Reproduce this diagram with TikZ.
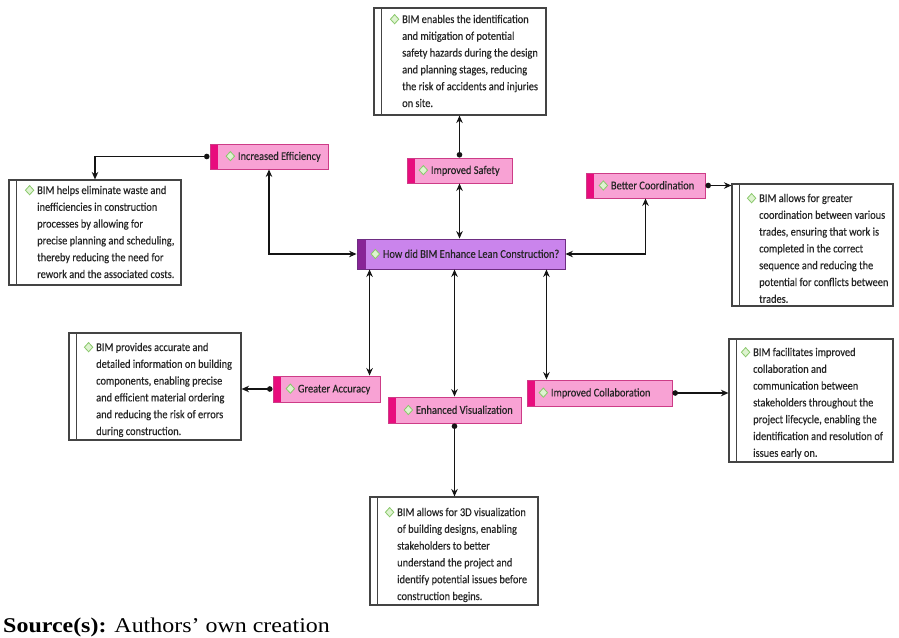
\documentclass[tikz,border=0pt]{standalone}
\usepackage{fontspec}
\setmainfont{Carlito}[FakeStretch=0.88,FakeBold=0.3]
\newfontfamily\srcfont{Liberation Serif}
\usetikzlibrary{arrows.meta}

\definecolor{pinkfill}{RGB}{248,162,212}
\definecolor{pinkstrip}{RGB}{232,12,125}
\definecolor{pinkedge}{RGB}{205,60,135}
\definecolor{purpfill}{RGB}{202,132,236}
\definecolor{purpstrip}{RGB}{136,36,150}
\definecolor{purpedge}{RGB}{110,45,130}
\definecolor{gemfill}{RGB}{222,243,208}
\definecolor{gemedge}{RGB}{138,200,108}
\definecolor{boxedge}{RGB}{68,68,68}
\definecolor{linkcol}{RGB}{20,20,20}

% small green diamond marker
\newcommand{\gem}{\tikz[baseline=0pt]\draw[gemedge,fill=gemfill,line width=0.8pt]
  (0pt,-0.8pt)--(4.2pt,3.8pt)--(0pt,8.4pt)--(-4.2pt,3.8pt)--cycle;}

\tikzset{
  pinkbox/.style={draw=pinkedge, line width=0.9pt, fill=pinkfill, inner sep=0pt,
    path picture={\fill[pinkstrip] (path picture bounding box.north west)
      rectangle ([xshift=8pt]path picture bounding box.south west);}},
  hubbox/.style={draw=purpedge, line width=0.9pt, fill=purpfill, inner sep=0pt,
    path picture={\fill[purpstrip] (path picture bounding box.north west)
      rectangle ([xshift=9pt]path picture bounding box.south west);}},
  tag/.style={anchor=west, inner sep=0pt, font=\fontsize{11.8}{13}\selectfont, text=black!85},
  descbox/.style={draw=boxedge, line width=1.1pt, fill=white, inner sep=0pt,
    path picture={\draw[boxedge,line width=1pt]
      ([xshift=7pt]path picture bounding box.north west) --
      ([xshift=7pt]path picture bounding box.south west);}},
  desctext/.style={anchor=north west, align=left, inner sep=0pt,
    font=\fontsize{11.8}{16.8}\selectfont, text=black!85},
  link/.style={draw=linkcol, line width=1.2pt},
  both/.style={link, {Stealth[length=7.5pt,width=6.5pt]}-{Stealth[length=7.5pt,width=6.5pt]}},
  dotarrow/.style={link, {Circle[length=5.5pt]}-{Stealth[length=7.5pt,width=6.5pt]}}
}

\begin{document}
\begin{tikzpicture}[x=1pt,y=-1pt]
\useasboundingbox (0,0) rectangle (899,637);

% central question
\node[hubbox, minimum width=208pt, minimum height=30pt] (hub) at (461,254) {};
\node[tag] (hubL) at ([xshift=14pt]hub.west) {\gem\hspace{3pt}How did BIM Enhance Lean Construction?};

% benefit boxes
\node[pinkbox, minimum width=118pt, minimum height=25pt] (eff) at (269,156.5) {};
\node[tag] (effL) at ([xshift=16pt]eff.west) {\gem\hspace{3pt}Increased Efficiency};

\node[pinkbox, minimum width=105pt, minimum height=25pt] (safe) at (459.5,170.5) {};
\node[tag] (safeL) at ([xshift=12pt]safe.west) {\gem\hspace{3pt}Improved Safety};

\node[pinkbox, minimum width=119pt, minimum height=25pt] (coord) at (645.5,185.5) {};
\node[tag] (coordL) at ([xshift=13pt]coord.west) {\gem\hspace{3pt}Better Coordination};

\node[pinkbox, minimum width=107pt, minimum height=26pt] (acc) at (326.5,389) {};
\node[tag] (accL) at ([xshift=13pt]acc.west) {\gem\hspace{3pt}Greater Accuracy};

\node[pinkbox, minimum width=133pt, minimum height=26pt] (vis) at (454.5,410) {};
\node[tag] (visL) at ([xshift=16pt]vis.west) {\gem\hspace{3pt}Enhanced Visualization};

\node[pinkbox, minimum width=145pt, minimum height=26pt] (col) at (599.5,393) {};
\node[tag] (colL) at ([xshift=12pt]col.west) {\gem\hspace{3pt}Improved Collaboration};

% description boxes
\node[descbox, minimum width=172pt, minimum height=107pt] (tSafe) at (460,61.5) {};
\node[desctext] (tSafeT) at (402,14) {\llap{\gem\hspace{3pt}}BIM enables the identification\\
and mitigation of potential\\
safety hazards during the design\\
and planning stages, reducing\\
the risk of accidents and injuries\\
on site.};

\node[descbox, minimum width=172pt, minimum height=105pt] (tEff) at (95,232.5) {};
\node[desctext] (tEffT) at (37,185) {\llap{\gem\hspace{3pt}}BIM helps eliminate waste and\\
inefficiencies in construction\\
processes by allowing for\\
precise planning and scheduling,\\
thereby reducing the need for\\
rework and the associated costs.};

\node[descbox, minimum width=161pt, minimum height=122pt] (tCoord) at (812.5,245) {};
\node[desctext] (tCoordT) at (759,193) {\llap{\gem\hspace{3pt}}BIM allows for greater\\
coordination between various\\
trades, ensuring that work is\\
completed in the correct\\
sequence and reducing the\\
potential for conflicts between\\
trades.};

\node[descbox, minimum width=172pt, minimum height=107pt] (tAcc) at (155,386.5) {};
\node[desctext] (tAccT) at (96,342) {\llap{\gem\hspace{3pt}}BIM provides accurate and\\
detailed information on building\\
components, enabling precise\\
and efficient material ordering\\
and reducing the risk of errors\\
during construction.};

\node[descbox, minimum width=164pt, minimum height=123pt] (tCol) at (811,400.5) {};
\node[desctext] (tColT) at (753,347) {\llap{\gem\hspace{3pt}}BIM facilitates improved\\
collaboration and\\
communication between\\
stakeholders throughout the\\
project lifecycle, enabling the\\
identification and resolution of\\
issues early on.};

\node[descbox, minimum width=168pt, minimum height=108pt] (tVis) at (454,551) {};
\node[desctext] (tVisT) at (397,507) {\llap{\gem\hspace{3pt}}BIM allows for 3D visualization\\
of building designs, enabling\\
stakeholders to better\\
understand the project and\\
identify potential issues before\\
construction begins.};

% links between the question and the benefits
\draw[both] (eff.south) |- (hub.west);
\draw[both] (safe.south) -- (safe.south |- hub.north);
\draw[both] (coord.south) |- (hub.east);
\draw[both] ([xshift=13pt]hub.south west) -- ([xshift=13pt]hub.south west |- acc.north);
\draw[both] (hub.south -| vis.north) -- (vis.north);
\draw[both] ([xshift=-19pt]hub.south east) -- ([xshift=-19pt]hub.south east |- col.north);

% links from the benefits to their descriptions
\draw[dotarrow] (eff.west) -| (tEff.north);
\draw[dotarrow] (safe.north) -- (safe.north |- tSafe.south);
\draw[dotarrow] (coord.east) -- (coord.east -| tCoord.west);
\draw[dotarrow] (acc.west) -- (acc.west -| tAcc.east);
\draw[dotarrow] (col.east) -- (col.east -| tCol.west);
\draw[dotarrow] (vis.south) -- (vis.south |- tVis.north);

% source line
\node[anchor=base west, inner sep=0pt, xscale=1.14, transform shape,
  font=\srcfont\fontsize{21}{24}\selectfont] (src) at (3,632)
  {\textbf{Source(s):} Authors’ own creation};
\end{tikzpicture}
\end{document}
